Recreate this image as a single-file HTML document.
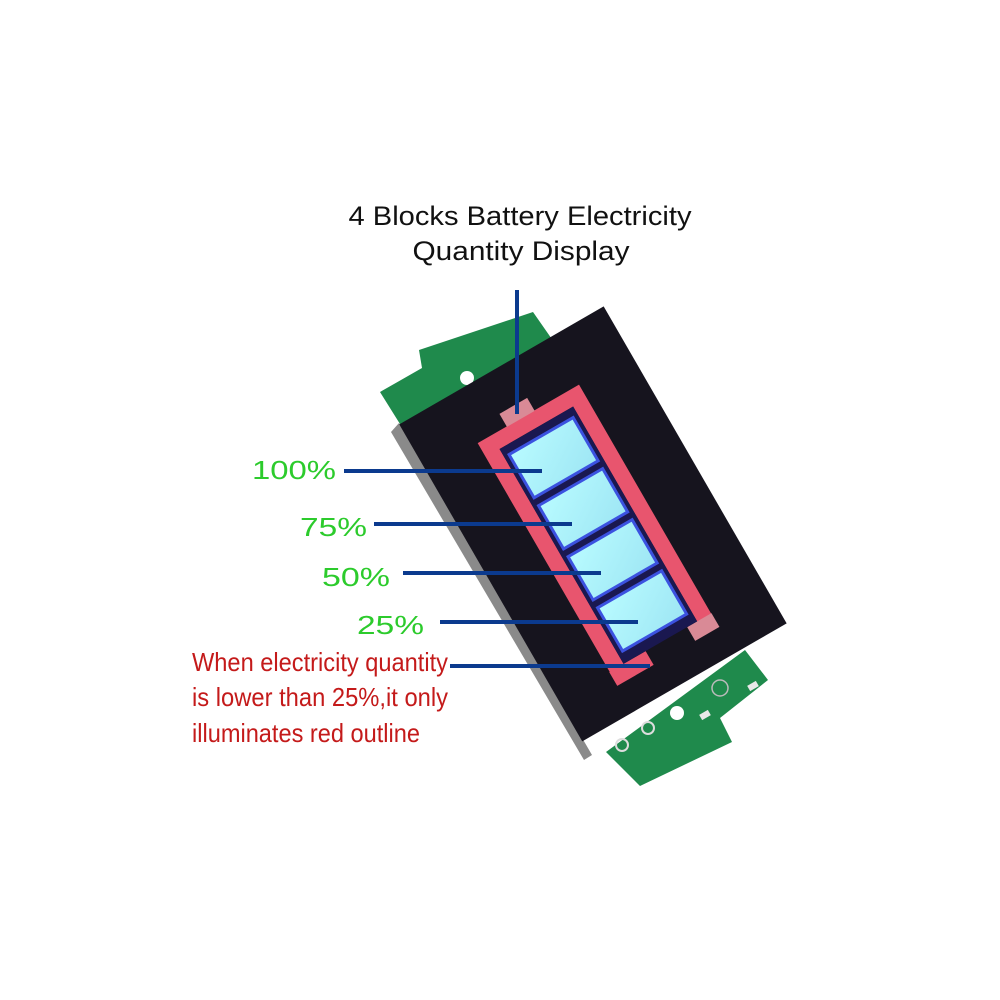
<!DOCTYPE html>
<html><head><meta charset="utf-8"><style>
html,body{margin:0;padding:0;background:#fff;}
svg{display:block;}
text{font-family:"Liberation Sans",sans-serif;}
</style></head><body>
<svg width="1000" height="1000" viewBox="0 0 1000 1000" xmlns="http://www.w3.org/2000/svg">
<defs>
<linearGradient id="blk" x1="0" y1="0" x2="1" y2="1">
<stop offset="0" stop-color="#b8fbff"/><stop offset="1" stop-color="#9ee6f4"/>
</linearGradient>
</defs>
<rect width="1000" height="1000" fill="#fff"/>
<polygon points="380,392 422,368 419,350 533,312 556,345 405,432" fill="#1f8a4c"/>
<circle cx="467" cy="378" r="7" fill="#fff"/>
<polygon points="745,650 768,680 720,718 732,742 640,786 606,752" fill="#1f8a4c"/>
<circle cx="677" cy="713" r="7" fill="#fff"/>
<circle cx="648" cy="728" r="6" fill="none" stroke="#ddd" stroke-width="2"/>
<circle cx="622" cy="745" r="6" fill="none" stroke="#ddd" stroke-width="2"/>
<circle cx="720" cy="688" r="8" fill="none" stroke="#bbb" stroke-width="1.5"/>
<rect x="700" y="712" width="10" height="6" fill="#e8e8e8" transform="rotate(-30 705 715)"/>
<rect x="748" y="683" width="10" height="6" fill="#e8e8e8" transform="rotate(-30 753 686)"/>
<polygon points="391,432 399,423 592,755 584,760" fill="#8a8a8a"/>
<g transform="translate(477,443) rotate(-30)">
  <rect x="-58" y="-55" width="236" height="366" fill="#16141e"/>
  <path d="M8.5,270 V8.5 H109.5 V270" fill="none" stroke="#e8556e" stroke-width="16"/>
  <path d="M0,272.5 H42" stroke="#e8556e" stroke-width="16"/>
  <path d="M90,272.5 H118" stroke="#d98a96" stroke-width="16"/>
  <rect x="34" y="-14" width="32" height="15" fill="#d98a96"/>
  <rect x="16.5" y="16.5" width="85" height="248" fill="#1a1850"/>
  <rect x="22" y="26" width="74" height="50" fill="url(#blk)" stroke="#3b52e0" stroke-width="3"/>
  <rect x="22" y="85" width="74" height="50" fill="url(#blk)" stroke="#3b52e0" stroke-width="3"/>
  <rect x="22" y="144" width="74" height="50" fill="url(#blk)" stroke="#3b52e0" stroke-width="3"/>
  <rect x="22" y="203" width="74" height="50" fill="url(#blk)" stroke="#3b52e0" stroke-width="3"/>
</g>
<g stroke="#0b3a8e" stroke-width="4">
<line x1="517" y1="290" x2="517" y2="414"/>
<line x1="344" y1="471" x2="542" y2="471"/>
<line x1="374" y1="524" x2="572" y2="524"/>
<line x1="403" y1="573" x2="601" y2="573"/>
<line x1="440" y1="622" x2="638" y2="622"/>
<line x1="450" y1="666" x2="650" y2="666"/>
</g>
<text x="520" y="225" font-size="27" text-anchor="middle" textLength="343" lengthAdjust="spacingAndGlyphs" fill="#111">4 Blocks Battery Electricity</text>
<text x="521" y="260" font-size="27" text-anchor="middle" textLength="217" lengthAdjust="spacingAndGlyphs" fill="#111">Quantity Display</text>
<g fill="#2ccb2c" font-size="26">
<text x="252" y="479" textLength="84" lengthAdjust="spacingAndGlyphs">100%</text>
<text x="300" y="536" textLength="67" lengthAdjust="spacingAndGlyphs">75%</text>
<text x="322" y="586" textLength="68" lengthAdjust="spacingAndGlyphs">50%</text>
<text x="357" y="634" textLength="67" lengthAdjust="spacingAndGlyphs">25%</text>
</g>
<g fill="#c41a1a" font-size="26">
<text x="192" y="671" textLength="256" lengthAdjust="spacingAndGlyphs">When electricity quantity</text>
<text x="192" y="706" textLength="256" lengthAdjust="spacingAndGlyphs">is lower than 25%,it only</text>
<text x="192" y="742" textLength="228" lengthAdjust="spacingAndGlyphs">illuminates red outline</text>
</g>
</svg>
</body></html>
